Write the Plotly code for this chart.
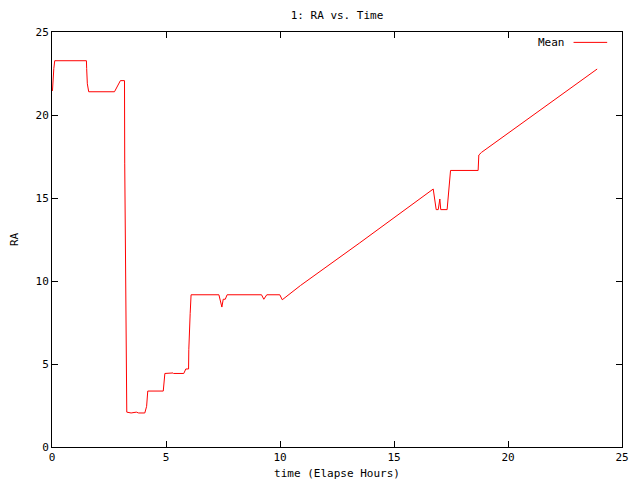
import plotly.graph_objects as go

# elapsed time (hours) and RA mean values
hours = [0.02, 0.03, 0.08, 0.12, 1.51, 1.52, 1.55, 1.61, 2.74, 3.00, 3.18, 3.19,
         3.24, 3.28, 3.47, 3.70, 3.80, 4.07, 4.15, 4.20, 4.88, 4.92, 4.95, 5.31,
         5.33, 5.78, 5.87, 5.99, 6.00, 6.06, 6.10, 7.32, 7.45, 7.51, 7.60, 7.68,
         9.19, 9.29, 9.42, 9.99, 10.10, 10.90, 13.50, 16.72, 16.79, 16.85, 16.94,
         17.01, 17.05, 17.33, 17.37, 17.41, 17.48, 18.69, 18.72, 18.84, 23.91]
ra_mean = [21.45, 21.90, 22.80, 23.27, 23.27, 22.80, 21.88, 21.40, 21.40, 22.07, 22.07, 17.10,
           7.07, 2.10, 2.05, 2.10, 2.05, 2.05, 2.45, 3.37, 3.37, 3.90, 4.43, 4.46,
           4.43, 4.43, 4.70, 4.70, 5.86, 8.03, 9.17, 9.17, 8.43, 8.90, 8.90, 9.17,
           9.17, 8.90, 9.17, 9.17, 8.87, 9.73, 12.30, 15.54, 14.66, 14.30, 14.30,
           14.94, 14.30, 14.30, 14.94, 15.54, 16.66, 16.66, 17.59, 17.75, 22.77]

tick_vals = [0, 5, 10, 15, 20, 25]

mono = "DejaVu Sans Mono"
small = dict(family=mono, size=11, color="black")

fig = go.Figure()
fig.add_trace(go.Scatter(
    x=hours, y=ra_mean, mode="lines", name="Mean",
    line=dict(color="#ff0000", width=1),
    showlegend=False,
))

axis_style = dict(
    range=[0, 25], tickvals=tick_vals, ticks="inside", ticklen=6,
    tickcolor="black", showline=True, linecolor="black", linewidth=1,
    mirror="ticks", showgrid=False, zeroline=False, automargin=True,
    tickfont=small,
)

# page body has an 8px margin, so the figure is sized to fill the rest
fig.update_layout(
    width=632, height=472,
    margin=dict(l=44, r=18, t=24, b=33, autoexpand=False),
    paper_bgcolor="white", plot_bgcolor="white",
    font=small,
    title=dict(text="1: RA vs. Time", x=0.5, xref="paper", y=0.985, yanchor="middle",
               automargin=False, font=small),
    xaxis=dict(axis_style, title=dict(text="time (Elapse Hours)", standoff=8, font=small)),
    yaxis=dict(axis_style, title=dict(text="RA", standoff=23, font=small)),
)

# gnuplot-style key: label on the left, line sample on the right
fig.add_annotation(text="Mean", xref="paper", yref="paper", x=0.903, y=0.974,
                   xanchor="right", yanchor="middle", showarrow=False, font=small)
fig.add_shape(type="line", xref="paper", yref="paper", x0=0.915, x1=0.974,
              y0=0.975, y1=0.975, line=dict(color="#ff0000", width=1))

fig.write_html("out.html")
